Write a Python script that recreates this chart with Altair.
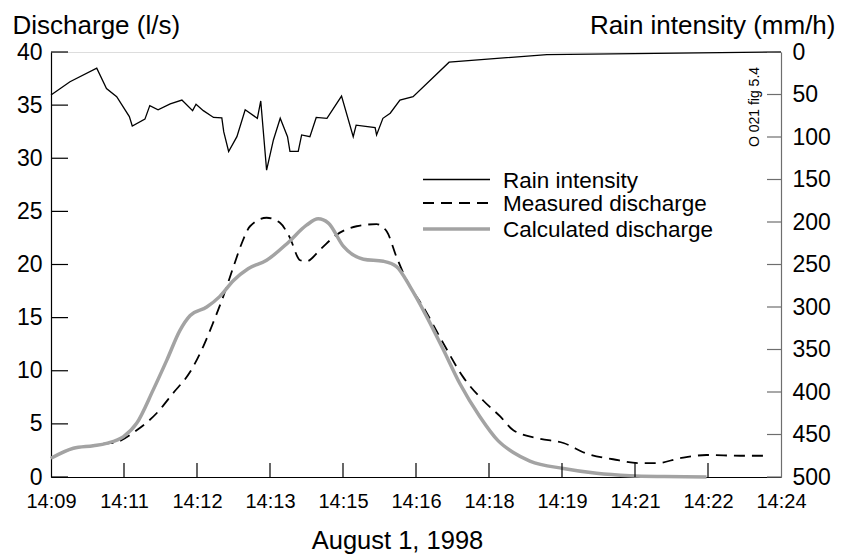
import altair as alt
import pandas as pd

FONT = "Liberation Sans"

# time in minutes after 14:09
rain_t = [0, 0.39, 0.94, 1.14, 1.35, 1.61, 1.67, 1.93, 2.03, 2.20, 2.45, 2.69, 2.91, 2.98, 3.13,
          3.34, 3.51, 3.55, 3.65, 3.82, 3.99, 4.24, 4.31, 4.43, 4.57, 4.71, 4.86, 4.91, 5.08, 5.15,
          5.32, 5.45, 5.67, 5.97, 6.21, 6.27, 6.66, 6.69, 6.82, 6.97, 7.17, 7.44, 8.18, 10.19, 15.0]
rain_v = [50.6, 35, 19, 43, 52.5, 76, 87, 79, 63, 68, 61, 56.5, 69, 61.5, 69,
          77, 77.6, 94, 117, 99.6, 68, 78, 57.6, 139, 103.5, 78, 99.6, 117, 117, 97.6,
          99.6, 77, 78, 51.8, 99.6, 86, 89, 97.6, 78, 72, 56.5, 52.5, 12, 3, 0]

meas_t = [0, 0.46, 0.87, 1.14, 1.32, 1.76, 2.17, 2.51, 2.86, 3.13, 3.33, 3.54, 3.75, 3.92, 4.09,
          4.43, 4.71, 4.90, 5.12, 5.25, 5.53, 5.87, 6.28, 6.69, 6.90, 7.10, 7.31, 7.65, 8.06, 8.47,
          8.88, 9.23, 9.50, 10.05, 10.53, 11.01, 11.55, 12.10, 12.44, 12.92, 13.47, 14.16, 14.77]
meas_q = [1.76, 2.7, 2.95, 3.17, 3.25, 4.4, 6.0, 7.9, 9.9, 12.3, 14.5, 17.0, 19.8, 22.0, 23.6,
          24.4, 23.9, 22.6, 20.4, 20.3, 21.4, 22.8, 23.6, 23.8, 23.1, 20.7, 18.5, 16.0, 12.6, 9.4,
          7.2, 5.7, 4.4, 3.6, 3.2, 2.2, 1.67, 1.3, 1.3, 1.76, 2.07, 2.0, 2.0]

calc_t = [0, 0.46, 0.87, 1.14, 1.49, 1.76, 2.10, 2.38, 2.65, 2.86, 3.20, 3.47, 3.75, 4.05, 4.43,
          4.88, 5.25, 5.49, 5.70, 6.01, 6.42, 6.83, 7.10, 7.38, 7.72, 8.06, 8.40, 8.81, 9.19, 9.50,
          9.84, 10.53, 11.21, 11.90, 12.60, 13.47]
calc_q = [1.76, 2.7, 2.95, 3.17, 3.8, 5.05, 8.2, 11.0, 13.8, 15.2, 16.0, 17.0, 18.5, 19.6, 20.4,
          22.1, 23.7, 24.3, 23.9, 21.7, 20.5, 20.3, 19.8, 17.9, 15.1, 12.0, 8.8, 5.7, 3.4, 2.3,
          1.5, 0.8, 0.35, 0.12, 0.04, 0.0]

x_tick_values = [0, 1.5, 3, 4.5, 6, 7.5, 9, 10.5, 12, 13.5, 15]
x_tick_labels = ["14:09", "14:11", "14:12", "14:13", "14:15", "14:16",
                 "14:18", "14:19", "14:21", "14:22", "14:24"]
q_ticks = [0, 5, 10, 15, 20, 25, 30, 35, 40]
rain_ticks = [0, 50, 100, 150, 200, 250, 300, 350, 400, 450, 500]

legend_names = ["Rain intensity", "Measured discharge", "Calculated discharge"]
watermark = ["O 021 fig 5.4"]

W, H = 730, 425
GRAY = "#a3a3a3"
AXGRAY = "#6e6e6e"

df_rain = pd.DataFrame({"t": rain_t, "rain": rain_v})
df_meas = pd.DataFrame({"t": meas_t, "q": meas_q})
df_calc = pd.DataFrame({"t": calc_t, "q": calc_q})

label_expr = "[" + ",".join("'%s'" % s for s in x_tick_labels) + "][round(datum.value / 1.5)]"

x_enc = alt.X("t:Q", scale=alt.Scale(domain=[0, 15], nice=False, zero=False),
              axis=alt.Axis(values=x_tick_values, labelExpr=label_expr, ticks=False,
                            domainColor="black", domainWidth=1.2, labelFontSize=20,
                            labelPadding=14, labelFlush=False, labelOverlap=False, grid=False,
                            title="August 1, 1998", titleFontSize=25.5, titleFontWeight="normal",
                            titleX=346, titleY=71, titleAlign="center",
                            titleBaseline="alphabetic"))

q_scale = alt.Scale(domain=[0, 40], nice=False, zero=True)
rain_scale = alt.Scale(domain=[0, 500], nice=False, reverse=True)

q_axis = alt.Axis(values=q_ticks, ticks=False, domainColor="black", domainWidth=1.2,
                  labelFontSize=23, labelPadding=9, labelFlush=False, grid=False,
                  labelBaseline="middle",
                  title="Discharge (l/s)", titleFontSize=26, titleFontWeight="normal",
                  titleAngle=0, titleAlign="left", titleBaseline="alphabetic",
                  titleX=-39, titleY=-19)
rain_axis = alt.Axis(orient="right", values=rain_ticks, ticks=False, domainColor=AXGRAY,
                     domainWidth=1.2, labelFontSize=23, labelPadding=11, labelFlush=False,
                     labelBaseline="middle", grid=False,
                     title="Rain intensity (mm/h)", titleFontSize=26,
                     titleFontWeight="normal", titleAngle=0, titleAlign="right",
                     titleBaseline="alphabetic", titleX=54, titleY=-19)

meas = alt.Chart(df_meas).mark_line(
    interpolate="monotone", color="black", strokeWidth=1.8, strokeDash=[11, 7]
).encode(x=x_enc, y=alt.Y("q:Q", scale=q_scale, axis=q_axis))

calc = alt.Chart(df_calc).mark_line(
    interpolate="monotone", color=GRAY, strokeWidth=3.5
).encode(x="t:Q", y=alt.Y("q:Q", scale=q_scale, axis=q_axis))

left_ticks = alt.Chart(pd.DataFrame({"q": q_ticks})).mark_rule(
    color="black", strokeWidth=1.2
).encode(y=alt.Y("q:Q", scale=q_scale, axis=q_axis), x=alt.value(0), x2=alt.value(17))

bottom_ticks = alt.Chart(pd.DataFrame({"t": x_tick_values[1:-1]})).mark_rule(
    color="black", strokeWidth=1.2
).encode(x="t:Q", y=alt.value(H - 14), y2=alt.value(H))

rain = alt.Chart(df_rain).mark_line(color="black", strokeWidth=1.3).encode(
    x="t:Q", y=alt.Y("rain:Q", scale=rain_scale, axis=rain_axis))

right_ticks = alt.Chart(pd.DataFrame({"rain": rain_ticks})).mark_rule(
    color=AXGRAY, strokeWidth=1.2
).encode(y=alt.Y("rain:Q", scale=rain_scale, axis=rain_axis), x=alt.value(W - 14), x2=alt.value(W))

# legend (drawn in pixel space)
leg_styles = [
    dict(color="black", strokeWidth=1.3),
    dict(color="black", strokeWidth=1.8, strokeDash=[11, 7]),
    dict(color=GRAY, strokeWidth=3.5),
]
leg_rows_y = [127.5, 151, 177]
legend_layers = []
for name, sty, yy in zip(legend_names, leg_styles, leg_rows_y):
    d = pd.DataFrame({"label": [name]})
    legend_layers.append(
        alt.Chart(d).mark_rule(**sty).encode(x=alt.value(372), x2=alt.value(439), y=alt.value(yy))
    )
    legend_layers.append(
        alt.Chart(d).mark_text(align="left", baseline="middle", fontSize=22.5, font=FONT,
                               color="black").encode(
            text="label:N", x=alt.value(452), y=alt.value(yy + 1))
    )

wm = alt.Chart(pd.DataFrame({"label": watermark})).mark_text(
    angle=270, fontSize=14, font=FONT, color="black", align="center", baseline="middle"
).encode(text="label:N", x=alt.value(704), y=alt.value(55))

left_group = alt.layer(meas, calc, left_ticks, bottom_ticks, *legend_layers, wm)
right_group = alt.layer(rain, right_ticks)

chart = alt.layer(left_group, right_group).resolve_scale(y="independent").properties(
    width=W, height=H,
    autosize=alt.AutoSizeParams(type="none"),
    padding={"left": 51, "top": 52, "right": 62, "bottom": 80},
).configure_view(stroke=None).configure(font=FONT).configure_axis(
    labelFont=FONT, titleFont=FONT, labelColor="black", titleColor="black"
)

chart.save("out.html", embed_options={"renderer": "svg", "actions": False})
